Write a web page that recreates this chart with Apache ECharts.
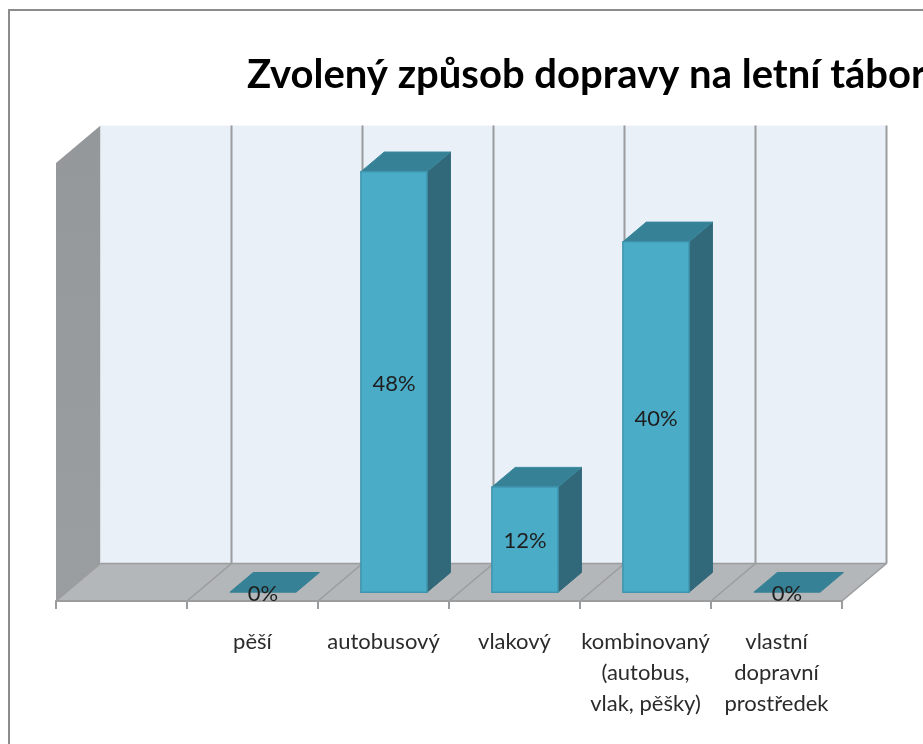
<!DOCTYPE html>
<html>
<head>
<meta charset="utf-8">
<style>html,body{margin:0;padding:0;background:#fff;overflow:hidden}#c{width:923px;height:744px}</style>
<script src="https://cdn.jsdelivr.net/npm/echarts@6/dist/echarts.min.js"></script>
</head>
<body>
<div id="c"></div>
<script>
const titleText = 'Zvolený způsob dopravy na letní tábor';
const categories = ['', 'pěší', 'autobusový', 'vlakový', 'kombinovaný\n(autobus,\nvlak, pěšky)', 'vlastní\ndopravní\nprostředek'];
const values = [null, 0, 48, 12, 40, 0];
const valueMax = 50;

const DX = 44.5, DY = 37.5, BAR_FRONT = 0.235, BAR_BACK = 0.76, BAR_WIDTH = 0.505;
const LINE = '#9a9c9e';

function renderWalls(params, api) {
  const cs = params.coordSys;
  const L = cs.x, R = cs.x + cs.width, T = cs.y, B = cs.y + cs.height;
  const band = cs.width / categories.length;
  const kids = [
    {type:'polygon', shape:{points:[[L,B],[L+DX,B-DY],[L+DX,T-DY],[L,T]]},
     style:{fill:{type:'linear',x:0,y:0,x2:0,y2:1,colorStops:[{offset:0,color:'#94989a'},{offset:1,color:'#9a9ea0'}]}}},
    {type:'rect', shape:{x:L+DX,y:T-DY,width:cs.width,height:cs.height}, style:{fill:'#e9f0f7'}},
    {type:'polygon', shape:{points:[[L,B],[R,B],[R+DX,B-DY],[L+DX,B-DY]]}, style:{fill:'#b3b7ba'}},
    {type:'line', shape:{x1:L+DX,y1:B-DY,x2:R+DX,y2:B-DY}, style:{stroke:LINE,lineWidth:1.5}}
  ];
  for (let i = 0; i <= categories.length; i++) {
    const x = L + i * band;
    if (i > 0) kids.push({type:'line', shape:{x1:x+DX,y1:T-DY,x2:x+DX,y2:B-DY}, style:{stroke:LINE,lineWidth:2}});
    kids.push({type:'line', shape:{x1:x,y1:B,x2:x+DX,y2:B-DY}, style:{stroke:LINE,lineWidth:1.5}});
  }
  return {type:'group', children:kids};
}

function renderBar(params, api) {
  const v = api.value(1);
  if (v === null || isNaN(v)) return null;
  const top = api.coord([api.value(0), v]);
  const base = api.coord([api.value(0), 0]);
  const w = api.size([1, 0])[0] * BAR_WIDTH;
  const ox = DX * BAR_FRONT, oy = DY * BAR_FRONT;
  const sx = DX * (BAR_BACK - BAR_FRONT), sy = DY * (BAR_BACK - BAR_FRONT);
  const x0 = top[0] + ox - w / 2, x1 = x0 + w, y0 = top[1] - oy, y1 = base[1] - oy;
  const kids = [];
  if (v > 0) {
    kids.push({type:'polygon', shape:{points:[[x1,y0],[x1+sx,y0-sy],[x1+sx,y1-sy],[x1,y1]]}, style:{fill:'#31697b',stroke:'#2f6677',lineWidth:1}});
  }
  kids.push({type:'polygon', shape:{points:[[x0,y0],[x1,y0],[x1+sx,y0-sy],[x0+sx,y0-sy]]}, style:{fill:'#378196',stroke:v>0?'#3a8a9f':'#378196',lineWidth:1}});
  if (v > 0) {
    kids.push({type:'rect', shape:{x:x0,y:y0,width:w,height:y1-y0}, style:{fill:'#4bacc8',stroke:'#3f95ad',lineWidth:1.5}});
  }
  kids.push({type:'text', x:(x0+x1)/2, y:(y0+y1)/2+1.5, style:{text:v+'%',fill:'#1e1e1e',font:'22px Lato',align:'center',verticalAlign:'middle'}});
  return {type:'group', children:kids};
}

const chart = echarts.init(document.getElementById('c'), null, {renderer:'canvas'});
chart.setOption({
  animation:false,
  backgroundColor:'#fff',
  title:{text:titleText,left:242,top:50,textStyle:{fontFamily:'Lato',fontWeight:'bold',fontSize:40,color:'#000'}},
  graphic:[{type:'rect',silent:true,z:-1,shape:{x:9,y:10,width:1000,height:900},style:{fill:'none',stroke:'#8c8c8c',lineWidth:2}}],
  grid:{left:56,right:81,top:163,bottom:143,containLabel:false},
  xAxis:{type:'category',data:categories,
    axisLine:{lineStyle:{color:LINE,width:2}},
    axisTick:{show:true,length:8,lineStyle:{color:LINE,width:2}},
    axisLabel:{interval:0,margin:25,fontFamily:'Lato',fontSize:22,lineHeight:31,color:'#2b2b2b'},
    z:5},
  yAxis:{type:'value',min:0,max:valueMax,show:false,splitLine:{show:false}},
  series:[
    {type:'custom',name:'walls',coordinateSystem:'cartesian2d',clip:false,silent:true,z:1,
      data:[[0,0]],renderItem:renderWalls,encode:{x:0,y:1}},
    {type:'custom',name:'bars',coordinateSystem:'cartesian2d',clip:false,z:10,
      data:values.map((v,i)=>[i,v]),renderItem:renderBar,encode:{x:0,y:1}}
  ]
});
</script>
</body>
</html>
